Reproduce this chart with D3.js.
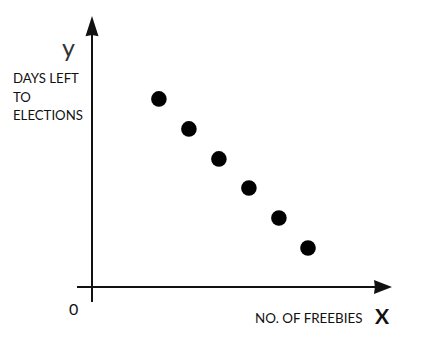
<!DOCTYPE html>
<html>
<head>
<meta charset="utf-8">
<script src="https://cdn.jsdelivr.net/npm/d3@7"></script>
<style>
	body { margin: 0; background: #fff; }
	svg { display: block; }
</style>
</head>
<body>
<div id="chart"></div>
<script>
// values (arbitrary units)
var freebies = [2.23, 3.23, 4.23, 5.23, 6.23, 7.2];
var daysLeft = [6.27, 5.27, 4.27, 3.3, 2.3, 1.3];

var yLabelLines = ['DAYS LEFT', 'TO', 'ELECTIONS'];
var xLabel = 'NO. OF FREEBIES';
var originLabel = '0';

var width = 423, height = 346;

var svg = d3.select('#chart').append('svg')
	.attr('width', width)
	.attr('height', height);

var xScale = d3.scaleLinear().domain([0, 10]).range([92, 392]);
var yScale = d3.scaleLinear().domain([0, 9]).range([287, 17]);

var ink = '#111';

// x axis line + arrow
svg.append('line')
	.attr('x1', xScale(-0.5)).attr('x2', xScale(9.5))
	.attr('y1', yScale(0)).attr('y2', yScale(0))
	.attr('stroke', ink).attr('stroke-width', 2);
svg.append('path')
	.attr('d', 'M' + xScale(10) + ',' + yScale(0) +
		'L' + xScale(9.4) + ',' + (yScale(0) - 7) +
		'L' + xScale(9.43) + ',' + yScale(0) +
		'L' + xScale(9.4) + ',' + (yScale(0) + 7) + 'Z')
	.attr('fill', ink);

// y axis line + arrow
svg.append('line')
	.attr('x1', xScale(0)).attr('x2', xScale(0))
	.attr('y1', yScale(-0.5)).attr('y2', yScale(8.5))
	.attr('stroke', ink).attr('stroke-width', 2);
svg.append('path')
	.attr('d', 'M' + xScale(0) + ',' + yScale(9.03) +
		'L' + (xScale(0) - 6.5) + ',' + yScale(8.36) +
		'L' + xScale(0) + ',' + yScale(8.4) +
		'L' + (xScale(0) + 6.5) + ',' + yScale(8.36) + 'Z')
	.attr('fill', ink);

// dots
svg.selectAll('circle.dot')
	.data(freebies.map(function(d, i) { return {x: d, y: daysLeft[i]}; }))
	.enter()
	.append('circle')
	.attr('class', 'dot')
	.attr('cx', function(d) { return xScale(d.x); })
	.attr('cy', function(d) { return yScale(d.y); })
	.attr('r', 7.8)
	.attr('fill', '#000');

// labels
var font = 'Lato, "Open Sans", sans-serif';

svg.append('text')
	.attr('x', 62).attr('y', 57)
	.attr('font-family', font).attr('font-size', 25)
	.attr('fill', '#333')
	.text('y');

svg.selectAll('text.ylab')
	.data(yLabelLines)
	.enter()
	.append('text')
	.attr('class', 'ylab')
	.attr('x', 13)
	.attr('y', function(d, i) { return 83 + i * 18.5; })
	.attr('font-family', font).attr('font-size', 13.2)
	.attr('fill', '#111')
	.text(function(d) { return d; });

svg.append('text')
	.attr('x', 69).attr('y', 315)
	.attr('font-family', font).attr('font-size', 16)
	.attr('fill', '#111')
	.text(originLabel);

svg.append('text')
	.attr('x', 255).attr('y', 323)
	.attr('font-family', font).attr('font-size', 13.4)
	.attr('fill', '#111')
	.text(xLabel);

svg.append('text')
	.attr('x', 375).attr('y', 324)
	.attr('font-family', font).attr('font-size', 21)
	.attr('font-weight', 'bold')
	.attr('fill', '#111')
	.text('X');
</script>
</body>
</html>
